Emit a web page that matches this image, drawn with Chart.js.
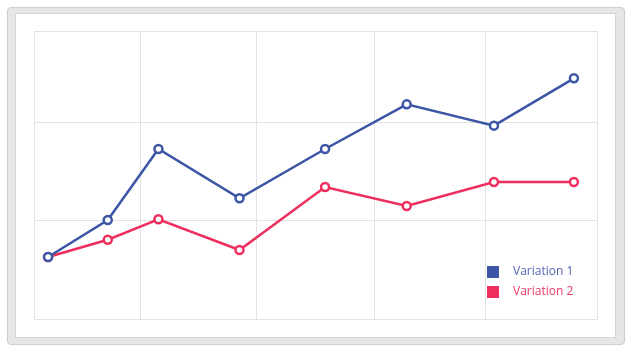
<!DOCTYPE html>
<html>
<head>
<meta charset="utf-8">
<script src="https://cdn.jsdelivr.net/npm/chart.js@4/dist/chart.umd.min.js"></script>
<style>
  html, body { margin: 0; padding: 0; background: #ffffff; width: 633px; height: 351px; overflow: hidden; }
  #outer { position: absolute; left: 7px; top: 7px; width: 616px; height: 336px; background: #e6e6e6; border: 1px solid #cfcfcf; border-radius: 4px; }
  #inner { position: absolute; left: 15px; top: 13px; width: 599px; height: 323px; background: #ffffff; border: 1px solid #d6d6d6; }
  canvas { position: absolute; left: 0; top: 0; }
</style>
</head>
<body>
<div id="outer"></div>
<div id="inner"></div>
<canvas id="c" width="633" height="351"></canvas>
<script>
// Data
const xPositions = [2.5, 13.1, 22.1, 36.5, 51.7, 66.2, 81.7, 95.9];
const variation1 = [64.6, 103.1, 177.1, 125.7, 177.1, 223.6, 201.4, 250.7];
const variation2 = [64.6, 82.6, 103.9, 71.9, 137.5, 117.7, 142.7, 142.7];
const seriesNames = ['Variation 1', 'Variation 2'];
const xGridTicks = [0, 19, 39.6, 60.4, 80.2, 100];
const yGridTicks = [0, 103.1, 204.2, 300];

const BLUE = '#3d55a5';
const RED = '#ee2e5c';
const GRID = '#e2e2e2';

const toPoints = (xs, ys) => xs.map((x, i) => ({ x: x, y: ys[i] }));

const insideLegend = {
  id: 'insideLegend',
  afterDraw(chart) {
    const ctx = chart.ctx;
    const area = chart.chartArea;
    const left = area.left + 453;
    const top0 = area.top + 235;
    ctx.save();
    ctx.font = '12px "Open Sans", sans-serif';
    ctx.textBaseline = 'middle';
    ctx.textAlign = 'left';
    chart.data.datasets.forEach((ds, i) => {
      const y = top0 + i * 20;
      ctx.fillStyle = ds.borderColor;
      ctx.fillRect(left, y, 12, 12);
      ctx.fillStyle = ds.legendTextColor;
      ctx.fillText(ds.label, left + 26, y + 6);
    });
    ctx.restore();
  }
};

new Chart(document.getElementById('c'), {
  type: 'line',
  data: {
    datasets: [
      {
        label: seriesNames[0],
        data: toPoints(xPositions, variation1),
        borderColor: BLUE,
        backgroundColor: '#ffffff',
        legendTextColor: '#5365b3',
        borderWidth: 2.5,
        pointRadius: 4,
        pointBorderWidth: 2.5,
        pointBackgroundColor: '#ffffff',
        pointBorderColor: BLUE,
        tension: 0,
        fill: false
      },
      {
        label: seriesNames[1],
        data: toPoints(xPositions, variation2),
        borderColor: RED,
        backgroundColor: '#ffffff',
        legendTextColor: '#ec3762',
        borderWidth: 2.5,
        pointRadius: 4,
        pointBorderWidth: 2.5,
        pointBackgroundColor: '#ffffff',
        pointBorderColor: RED,
        tension: 0,
        fill: false
      }
    ]
  },
  options: {
    responsive: false,
    animation: false,
    layout: { padding: { left: 34, top: 31, right: 36, bottom: 32 } },
    plugins: {
      legend: { display: false },
      tooltip: { enabled: false }
    },
    scales: {
      x: {
        type: 'linear',
        min: 0,
        max: 100,
        afterBuildTicks: (scale) => { scale.ticks = xGridTicks.map(v => ({ value: v })); },
        ticks: { display: false },
        grid: { color: GRID, drawTicks: false, lineWidth: 1 },
        border: { display: true, color: GRID }
      },
      y: {
        type: 'linear',
        min: 0,
        max: 300,
        afterBuildTicks: (scale) => { scale.ticks = yGridTicks.map(v => ({ value: v })); },
        ticks: { display: false },
        grid: { color: GRID, drawTicks: false, lineWidth: 1 },
        border: { display: true, color: GRID }
      }
    }
  },
  plugins: [insideLegend]
});
</script>
</body>
</html>
